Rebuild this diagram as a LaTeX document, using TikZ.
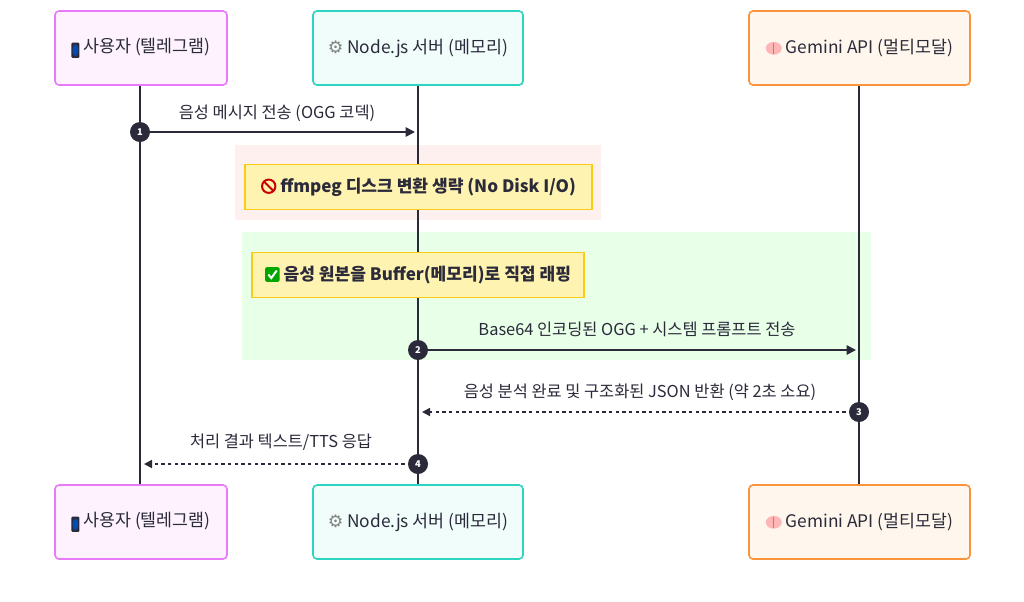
\documentclass[tikz,border=0pt]{standalone}
\usepackage{fontspec}
\setmainfont{Noto Sans CJK KR}
\newfontfamily\dejavu{DejaVu Sans}
\usetikzlibrary{arrows.meta}
\definecolor{ink}{HTML}{2B2A3A}
\definecolor{pinkb}{HTML}{E879F9}
\definecolor{pinkf}{HTML}{FDF2FD}
\definecolor{tealb}{HTML}{2DD4BF}
\definecolor{tealf}{HTML}{F0FDFA}
\definecolor{orab}{HTML}{FB923C}
\definecolor{oraf}{HTML}{FFF7ED}
\definecolor{noteb}{HTML}{FACC15}
\definecolor{notef}{HTML}{FEF3B0}
\newcommand\iconphone{\tikz[baseline=-0.1em]{\fill[ink,rounded corners=0.8pt](-3pt,-5.5pt) rectangle (3pt,6pt);\fill[teal!60!blue](-2.1pt,-4pt) rectangle (2.1pt,4.6pt);}}
\newcommand\icongear{{\dejavu\color{gray}⚙}}
\newcommand\iconbrain{\tikz[baseline=-0.3em]{\fill[pink!70!red!60](0,0) ellipse (6pt and 4.8pt);\draw[red!50!pink,line width=0.6pt](0,-4.2pt)--(0,4.2pt);}}
\newcommand\iconno{\tikz[baseline=-0.35em]{\draw[red!80!black,line width=1.5pt](0,0) circle (5pt);\draw[red!80!black,line width=1.5pt](-3.5pt,3.5pt)--(3.5pt,-3.5pt);}}
\newcommand\iconok{\tikz[baseline=-0.35em]{\fill[green!65!black,rounded corners=1.5pt](-5.5pt,-5.5pt) rectangle (5.5pt,5.5pt);\draw[white,line width=1.5pt](-3pt,0)--(-0.8pt,-2.7pt)--(3.3pt,3pt);}}
\begin{document}
\begin{tikzpicture}[x=0.75pt,y=-0.75pt,
 actor/.style={draw,line width=1.2pt,rounded corners=3pt,minimum width=#1,minimum height=55.5pt,font=\fontsize{13}{15}\selectfont,text=ink},
 note/.style={draw=noteb,fill=notef,line width=1.2pt,minimum height=34pt,font=\bfseries\fontsize{12.8}{15}\selectfont,text=ink},
 life/.style={ink,line width=1.3pt},
 msg/.style={ink,line width=1.3pt,-{Triangle[length=7pt,width=7pt]}},
 rep/.style={msg,dash pattern=on 2.5pt off 2.5pt,-{Triangle[length=6pt,width=6pt]}},
 num/.style={circle,fill=ink,text=white,inner sep=0pt,minimum size=15pt,font=\bfseries\fontsize{7}{8}\selectfont},
 lbl/.style={font=\fontsize{12.3}{14}\selectfont,text=ink}]
\useasboundingbox (0,0) rectangle (1024,601);
\fill[white] (0,0) rectangle (1024,601);
\fill[red!6] (235,145) rectangle (601,220);
\fill[green!9] (242,232) rectangle (871,360);
\coordinate (u1) at (140,85); \coordinate (u2) at (140,486);
\coordinate (s1) at (418,85); \coordinate (s2) at (418,486);
\coordinate (g1) at (859,85); \coordinate (g2) at (859,486);
\draw[life] (u1)--(u2); \draw[life] (s1)--(s2); \draw[life] (g1)--(g2);
\foreach \y/\n in {48/t,522/b}{
 \node[actor=129pt,draw=pinkb,fill=pinkf] (user\n) at (141,\y) {\iconphone\ 사용자 (텔레그램)};
 \node[actor=157.5pt,draw=tealb,fill=tealf] (srv\n) at (418,\y) {\icongear\ Node.js 서버 (메모리)};
 \node[actor=165.75pt,draw=orab,fill=oraf] (gem\n) at (859.5,\y) {\iconbrain\ Gemini API (멀티모달)};
}
\node[note,minimum width=260pt] (n1) at (418.5,187) {\iconno\ ffmpeg 디스크 변환 생략 (No Disk I/O)};
\node[note,minimum width=249pt] (n2) at (418,275) {\iconok\ 음성 원본을 Buffer(메모리)로 직접 래핑};
\coordinate (a1) at (140,132); \coordinate (b1) at (415,132);
\draw[msg] (a1)--(b1); \node[num] (c1) at (a1) {1};
\node[lbl] at (277,113) {음성 메시지 전송 (OGG 코덱)};
\coordinate (a2) at (418,350); \coordinate (b2) at (856,350);
\draw[msg] (a2)--(b2); \node[num] (c2) at (a2) {2};
\node[lbl] at (637,329) {Base64 인코딩된 OGG + 시스템 프롬프트 전송};
\coordinate (a3) at (859,412); \coordinate (b3) at (422,412);
\draw[rep] (a3)--(b3); \node[num] (c3) at (a3) {3};
\node[lbl] at (640,392) {음성 분석 완료 및 구조화된 JSON 반환 (약 2초 소요)};
\coordinate (a4) at (418,464); \coordinate (b4) at (144,464);
\draw[rep] (a4)--(b4); \node[num] (c4) at (a4) {4};
\node[lbl] at (281,442) {처리 결과 텍스트/TTS 응답};
\end{tikzpicture}
\end{document}
